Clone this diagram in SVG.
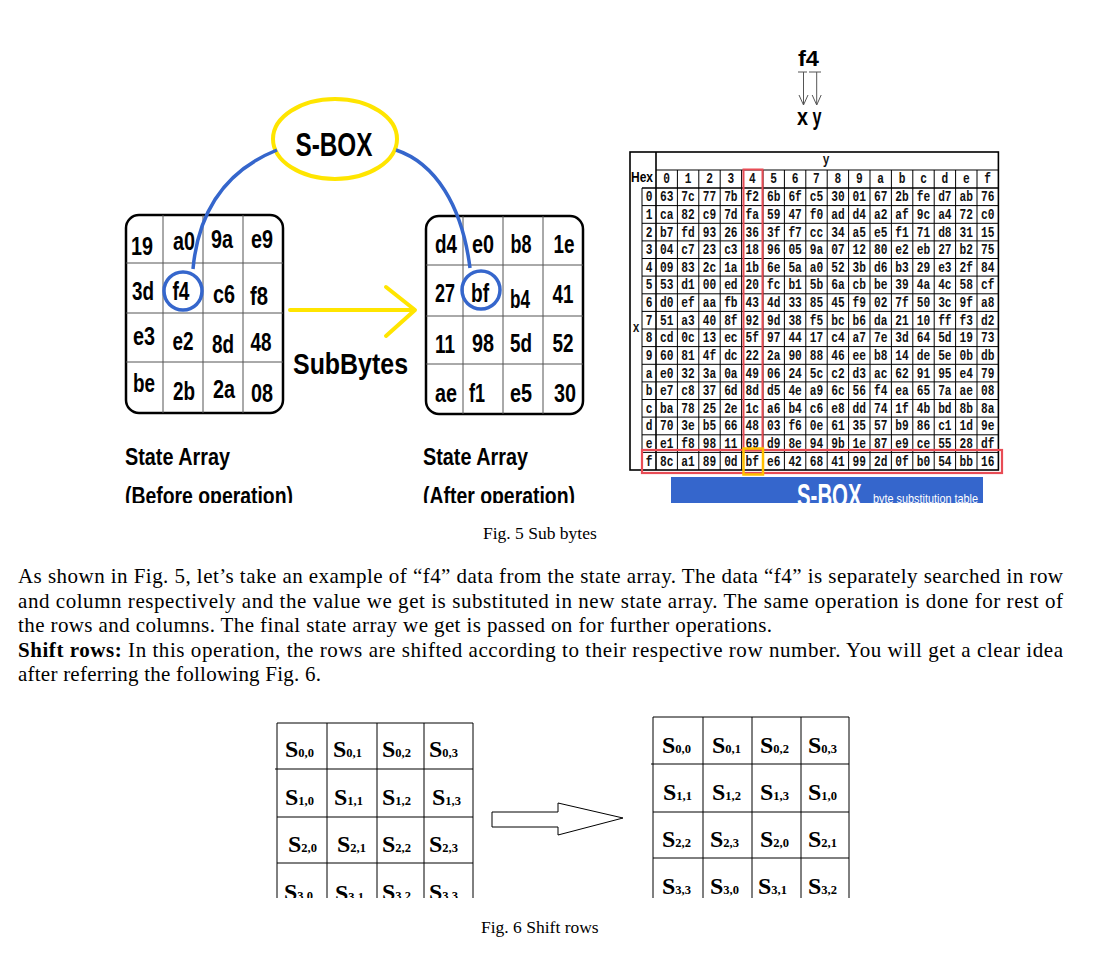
<svg xmlns="http://www.w3.org/2000/svg" width="1095" height="954" viewBox="0 0 1095 954">
<style>
.bn{font-family:"Liberation Sans",Arial,sans-serif;font-weight:bold;fill:#000;}
.v{font-size:25px;text-anchor:middle;}
.lbl{font-size:24px;}
.tb{font-family:"Liberation Mono","Courier New",monospace;font-size:14px;font-weight:bold;text-anchor:middle;fill:#111;}
.grid{stroke:#000;stroke-width:1;fill:none;}
.gthk{stroke:#000;stroke-width:1.6;fill:none;}
.ig{stroke:#555;stroke-width:1;fill:none;}
.frame{stroke:#000;stroke-width:2.5;fill:#fff;}
.para{font-family:"Liberation Serif","Times New Roman",serif;font-size:21px;fill:#000;}
.cap{font-family:"Liberation Serif","Times New Roman",serif;font-size:17.5px;fill:#000;}
.s{font-family:"Liberation Serif","Times New Roman",serif;font-weight:bold;font-size:24px;fill:#000;}
.sub{font-size:12.5px;}
.blue{stroke:#3566CC;stroke-width:3.5;fill:none;}
.yel{stroke:#FFE500;stroke-width:4;fill:none;stroke-linecap:round;stroke-linejoin:round;}
.thin{stroke:#555;stroke-width:1;fill:none;}
</style>
<defs>
<clipPath id="clipTop"><rect x="0" y="0" width="1095" height="503"/></clipPath>
<clipPath id="clipBot"><rect x="0" y="700" width="1095" height="198"/></clipPath>
</defs>
<rect x="0" y="0" width="1095" height="954" fill="#fff"/>

<g id="fig5" clip-path="url(#clipTop)">
  <g id="sbox-ellipse">
    <ellipse cx="335" cy="139" rx="62" ry="40" fill="#fff" stroke="#FFE500" stroke-width="4"/>
    <text class="bn" x="334" y="156" font-size="33" text-anchor="middle" textLength="77" lengthAdjust="spacingAndGlyphs">S-BOX</text>
  </g>

  <g id="state-before">
    <rect class="frame" x="126" y="215" width="157" height="198" rx="13"/>
    <path class="ig" d="M163,215V413M203,215V413M243,215V413M126,263H283M126,313H283M126,362H283"/>
    <text class="bn v" x="142" y="255" textLength="22" lengthAdjust="spacingAndGlyphs">19</text>
    <text class="bn v" x="184" y="250" textLength="22" lengthAdjust="spacingAndGlyphs">a0</text>
    <text class="bn v" x="222" y="248" textLength="22" lengthAdjust="spacingAndGlyphs">9a</text>
    <text class="bn v" x="262" y="248" textLength="22" lengthAdjust="spacingAndGlyphs">e9</text>
    <text class="bn v" x="143" y="300" textLength="22" lengthAdjust="spacingAndGlyphs">3d</text>
    <text class="bn v" x="181" y="300" textLength="17" lengthAdjust="spacingAndGlyphs">f4</text>
    <text class="bn v" x="224" y="303" textLength="22" lengthAdjust="spacingAndGlyphs">c6</text>
    <text class="bn v" x="259" y="305" textLength="18" lengthAdjust="spacingAndGlyphs">f8</text>
    <text class="bn v" x="144" y="345" textLength="22" lengthAdjust="spacingAndGlyphs">e3</text>
    <text class="bn v" x="183" y="350" textLength="21" lengthAdjust="spacingAndGlyphs">e2</text>
    <text class="bn v" x="223" y="353" textLength="22" lengthAdjust="spacingAndGlyphs">8d</text>
    <text class="bn v" x="261" y="351" textLength="21" lengthAdjust="spacingAndGlyphs">48</text>
    <text class="bn v" x="144" y="392" textLength="22" lengthAdjust="spacingAndGlyphs">be</text>
    <text class="bn v" x="184" y="400" textLength="22" lengthAdjust="spacingAndGlyphs">2b</text>
    <text class="bn v" x="224" y="398" textLength="22" lengthAdjust="spacingAndGlyphs">2a</text>
    <text class="bn v" x="262" y="402" textLength="22" lengthAdjust="spacingAndGlyphs">08</text>
    <circle class="blue" cx="183" cy="291" r="19"/>
  </g>

  <g id="state-after">
    <rect class="frame" x="426" y="216" width="157" height="198" rx="13"/>
    <path class="ig" d="M463,216V414M503,216V414M543,216V414M426,265H583M426,316H583M426,364H583"/>
    <text class="bn v" x="446" y="253" textLength="22" lengthAdjust="spacingAndGlyphs">d4</text>
    <text class="bn v" x="483" y="253" textLength="22" lengthAdjust="spacingAndGlyphs">e0</text>
    <text class="bn v" x="521" y="253" textLength="21" lengthAdjust="spacingAndGlyphs">b8</text>
    <text class="bn v" x="564" y="253" textLength="21" lengthAdjust="spacingAndGlyphs">1e</text>
    <text class="bn v" x="445" y="302" textLength="20" lengthAdjust="spacingAndGlyphs">27</text>
    <text class="bn v" x="480" y="302" textLength="18" lengthAdjust="spacingAndGlyphs">bf</text>
    <text class="bn v" x="520" y="308" textLength="20" lengthAdjust="spacingAndGlyphs">b4</text>
    <text class="bn v" x="563" y="303" textLength="21" lengthAdjust="spacingAndGlyphs">41</text>
    <text class="bn v" x="445" y="353" textLength="20" lengthAdjust="spacingAndGlyphs">11</text>
    <text class="bn v" x="483" y="352" textLength="22" lengthAdjust="spacingAndGlyphs">98</text>
    <text class="bn v" x="521" y="352" textLength="22" lengthAdjust="spacingAndGlyphs">5d</text>
    <text class="bn v" x="563" y="352" textLength="21" lengthAdjust="spacingAndGlyphs">52</text>
    <text class="bn v" x="446" y="402" textLength="22" lengthAdjust="spacingAndGlyphs">ae</text>
    <text class="bn v" x="477" y="402" textLength="16" lengthAdjust="spacingAndGlyphs">f1</text>
    <text class="bn v" x="521" y="402" textLength="22" lengthAdjust="spacingAndGlyphs">e5</text>
    <text class="bn v" x="565" y="402" textLength="22" lengthAdjust="spacingAndGlyphs">30</text>
    <circle class="blue" cx="481" cy="290" r="19"/>
  </g>

  <g id="connectors">
    <path class="blue" d="M193,269 C197,225 215,175 277,150"/>
    <path class="blue" d="M396,150 C435,163 462,205 470,268"/>
    <path class="yel" d="M290,310 H414 M386,287 L415,310 L386,336"/>
  </g>

  <g id="labels-fig5">
    <text class="bn" x="293" y="374" font-size="30" textLength="115" lengthAdjust="spacingAndGlyphs">SubBytes</text>
    <text class="bn lbl" x="125" y="465" textLength="105" lengthAdjust="spacingAndGlyphs">State Array</text>
    <text class="bn lbl" x="125" y="504" textLength="168" lengthAdjust="spacingAndGlyphs">(Before operation)</text>
    <text class="bn lbl" x="423" y="465" textLength="105" lengthAdjust="spacingAndGlyphs">State Array</text>
    <text class="bn lbl" x="423" y="504" textLength="152" lengthAdjust="spacingAndGlyphs">(After operation)</text>
  </g>

  <g id="f4-xy">
    <text class="bn" x="808.5" y="66" font-size="22" text-anchor="middle" textLength="21" lengthAdjust="spacingAndGlyphs">f4</text>
    <path class="thin" d="M798,72H807M809,72H821M803.5,72V105M816.7,72V105M799,95L803.5,105L808,95M812.2,95L816.7,105L821.2,95"/>
    <text class="bn" x="802.5" y="125" font-size="24" text-anchor="middle" textLength="11" lengthAdjust="spacingAndGlyphs">x</text>
    <text class="bn" x="817" y="125" font-size="24" text-anchor="middle" textLength="9" lengthAdjust="spacingAndGlyphs">y</text>
  </g>

  <g id="sbox-table">
    <rect class="gthk" x="630" y="152" width="368.4" height="318"/>
    <path class="gthk" d="M656,152V470M642,188H998.4"/>
    <path class="grid" d="M642,188V470M656,170H998.4
      M677.4,170V470M698.8,170V470M720.2,170V470M741.6,170V470M763,170V470M784.4,170V470M805.8,170V470M827.2,170V470M848.6,170V470M870,170V470M891.4,170V470M912.8,170V470M934.2,170V470M955.6,170V470M977,170V470
      M642,205.6H998.4M642,223.3H998.4M642,240.9H998.4M642,258.5H998.4M642,276.1H998.4M642,293.8H998.4M642,311.4H998.4M642,329H998.4M642,346.6H998.4M642,364.3H998.4M642,381.9H998.4M642,399.5H998.4M642,417.1H998.4M642,434.8H998.4M642,452.4H998.4"/>
    <text class="bn" x="642" y="182" font-size="14" text-anchor="middle" textLength="22" lengthAdjust="spacingAndGlyphs">Hex</text>
    <g transform="scale(0.8 1)">
      <text class="tb" x="1032.5" y="164">y</text>
      <text class="tb" x="795" y="332">x</text>
      <text class="tb" y="183"><tspan x="833.4">0</tspan><tspan x="860.1">1</tspan><tspan x="886.9">2</tspan><tspan x="913.6">3</tspan><tspan x="940.4">4</tspan><tspan x="967.1">5</tspan><tspan x="993.9">6</tspan><tspan x="1020.6">7</tspan><tspan x="1047.4">8</tspan><tspan x="1074.1">9</tspan><tspan x="1100.9">a</tspan><tspan x="1127.6">b</tspan><tspan x="1154.4">c</tspan><tspan x="1181.1">d</tspan><tspan x="1207.9">e</tspan><tspan x="1234.6">f</tspan></text>
      <text class="tb" y="201.3"><tspan x="811.3">0</tspan><tspan x="833.4">63</tspan><tspan x="860.1">7c</tspan><tspan x="886.9">77</tspan><tspan x="913.6">7b</tspan><tspan x="940.4">f2</tspan><tspan x="967.1">6b</tspan><tspan x="993.9">6f</tspan><tspan x="1020.6">c5</tspan><tspan x="1047.4">30</tspan><tspan x="1074.1">01</tspan><tspan x="1100.9">67</tspan><tspan x="1127.6">2b</tspan><tspan x="1154.4">fe</tspan><tspan x="1181.1">d7</tspan><tspan x="1207.9">ab</tspan><tspan x="1234.6">76</tspan></text>
      <text class="tb" y="218.9"><tspan x="811.3">1</tspan><tspan x="833.4">ca</tspan><tspan x="860.1">82</tspan><tspan x="886.9">c9</tspan><tspan x="913.6">7d</tspan><tspan x="940.4">fa</tspan><tspan x="967.1">59</tspan><tspan x="993.9">47</tspan><tspan x="1020.6">f0</tspan><tspan x="1047.4">ad</tspan><tspan x="1074.1">d4</tspan><tspan x="1100.9">a2</tspan><tspan x="1127.6">af</tspan><tspan x="1154.4">9c</tspan><tspan x="1181.1">a4</tspan><tspan x="1207.9">72</tspan><tspan x="1234.6">c0</tspan></text>
      <text class="tb" y="236.6"><tspan x="811.3">2</tspan><tspan x="833.4">b7</tspan><tspan x="860.1">fd</tspan><tspan x="886.9">93</tspan><tspan x="913.6">26</tspan><tspan x="940.4">36</tspan><tspan x="967.1">3f</tspan><tspan x="993.9">f7</tspan><tspan x="1020.6">cc</tspan><tspan x="1047.4">34</tspan><tspan x="1074.1">a5</tspan><tspan x="1100.9">e5</tspan><tspan x="1127.6">f1</tspan><tspan x="1154.4">71</tspan><tspan x="1181.1">d8</tspan><tspan x="1207.9">31</tspan><tspan x="1234.6">15</tspan></text>
      <text class="tb" y="254.2"><tspan x="811.3">3</tspan><tspan x="833.4">04</tspan><tspan x="860.1">c7</tspan><tspan x="886.9">23</tspan><tspan x="913.6">c3</tspan><tspan x="940.4">18</tspan><tspan x="967.1">96</tspan><tspan x="993.9">05</tspan><tspan x="1020.6">9a</tspan><tspan x="1047.4">07</tspan><tspan x="1074.1">12</tspan><tspan x="1100.9">80</tspan><tspan x="1127.6">e2</tspan><tspan x="1154.4">eb</tspan><tspan x="1181.1">27</tspan><tspan x="1207.9">b2</tspan><tspan x="1234.6">75</tspan></text>
      <text class="tb" y="271.8"><tspan x="811.3">4</tspan><tspan x="833.4">09</tspan><tspan x="860.1">83</tspan><tspan x="886.9">2c</tspan><tspan x="913.6">1a</tspan><tspan x="940.4">1b</tspan><tspan x="967.1">6e</tspan><tspan x="993.9">5a</tspan><tspan x="1020.6">a0</tspan><tspan x="1047.4">52</tspan><tspan x="1074.1">3b</tspan><tspan x="1100.9">d6</tspan><tspan x="1127.6">b3</tspan><tspan x="1154.4">29</tspan><tspan x="1181.1">e3</tspan><tspan x="1207.9">2f</tspan><tspan x="1234.6">84</tspan></text>
      <text class="tb" y="289.4"><tspan x="811.3">5</tspan><tspan x="833.4">53</tspan><tspan x="860.1">d1</tspan><tspan x="886.9">00</tspan><tspan x="913.6">ed</tspan><tspan x="940.4">20</tspan><tspan x="967.1">fc</tspan><tspan x="993.9">b1</tspan><tspan x="1020.6">5b</tspan><tspan x="1047.4">6a</tspan><tspan x="1074.1">cb</tspan><tspan x="1100.9">be</tspan><tspan x="1127.6">39</tspan><tspan x="1154.4">4a</tspan><tspan x="1181.1">4c</tspan><tspan x="1207.9">58</tspan><tspan x="1234.6">cf</tspan></text>
      <text class="tb" y="307.1"><tspan x="811.3">6</tspan><tspan x="833.4">d0</tspan><tspan x="860.1">ef</tspan><tspan x="886.9">aa</tspan><tspan x="913.6">fb</tspan><tspan x="940.4">43</tspan><tspan x="967.1">4d</tspan><tspan x="993.9">33</tspan><tspan x="1020.6">85</tspan><tspan x="1047.4">45</tspan><tspan x="1074.1">f9</tspan><tspan x="1100.9">02</tspan><tspan x="1127.6">7f</tspan><tspan x="1154.4">50</tspan><tspan x="1181.1">3c</tspan><tspan x="1207.9">9f</tspan><tspan x="1234.6">a8</tspan></text>
      <text class="tb" y="324.7"><tspan x="811.3">7</tspan><tspan x="833.4">51</tspan><tspan x="860.1">a3</tspan><tspan x="886.9">40</tspan><tspan x="913.6">8f</tspan><tspan x="940.4">92</tspan><tspan x="967.1">9d</tspan><tspan x="993.9">38</tspan><tspan x="1020.6">f5</tspan><tspan x="1047.4">bc</tspan><tspan x="1074.1">b6</tspan><tspan x="1100.9">da</tspan><tspan x="1127.6">21</tspan><tspan x="1154.4">10</tspan><tspan x="1181.1">ff</tspan><tspan x="1207.9">f3</tspan><tspan x="1234.6">d2</tspan></text>
      <text class="tb" y="342.3"><tspan x="811.3">8</tspan><tspan x="833.4">cd</tspan><tspan x="860.1">0c</tspan><tspan x="886.9">13</tspan><tspan x="913.6">ec</tspan><tspan x="940.4">5f</tspan><tspan x="967.1">97</tspan><tspan x="993.9">44</tspan><tspan x="1020.6">17</tspan><tspan x="1047.4">c4</tspan><tspan x="1074.1">a7</tspan><tspan x="1100.9">7e</tspan><tspan x="1127.6">3d</tspan><tspan x="1154.4">64</tspan><tspan x="1181.1">5d</tspan><tspan x="1207.9">19</tspan><tspan x="1234.6">73</tspan></text>
      <text class="tb" y="359.9"><tspan x="811.3">9</tspan><tspan x="833.4">60</tspan><tspan x="860.1">81</tspan><tspan x="886.9">4f</tspan><tspan x="913.6">dc</tspan><tspan x="940.4">22</tspan><tspan x="967.1">2a</tspan><tspan x="993.9">90</tspan><tspan x="1020.6">88</tspan><tspan x="1047.4">46</tspan><tspan x="1074.1">ee</tspan><tspan x="1100.9">b8</tspan><tspan x="1127.6">14</tspan><tspan x="1154.4">de</tspan><tspan x="1181.1">5e</tspan><tspan x="1207.9">0b</tspan><tspan x="1234.6">db</tspan></text>
      <text class="tb" y="377.6"><tspan x="811.3">a</tspan><tspan x="833.4">e0</tspan><tspan x="860.1">32</tspan><tspan x="886.9">3a</tspan><tspan x="913.6">0a</tspan><tspan x="940.4">49</tspan><tspan x="967.1">06</tspan><tspan x="993.9">24</tspan><tspan x="1020.6">5c</tspan><tspan x="1047.4">c2</tspan><tspan x="1074.1">d3</tspan><tspan x="1100.9">ac</tspan><tspan x="1127.6">62</tspan><tspan x="1154.4">91</tspan><tspan x="1181.1">95</tspan><tspan x="1207.9">e4</tspan><tspan x="1234.6">79</tspan></text>
      <text class="tb" y="395.2"><tspan x="811.3">b</tspan><tspan x="833.4">e7</tspan><tspan x="860.1">c8</tspan><tspan x="886.9">37</tspan><tspan x="913.6">6d</tspan><tspan x="940.4">8d</tspan><tspan x="967.1">d5</tspan><tspan x="993.9">4e</tspan><tspan x="1020.6">a9</tspan><tspan x="1047.4">6c</tspan><tspan x="1074.1">56</tspan><tspan x="1100.9">f4</tspan><tspan x="1127.6">ea</tspan><tspan x="1154.4">65</tspan><tspan x="1181.1">7a</tspan><tspan x="1207.9">ae</tspan><tspan x="1234.6">08</tspan></text>
      <text class="tb" y="412.8"><tspan x="811.3">c</tspan><tspan x="833.4">ba</tspan><tspan x="860.1">78</tspan><tspan x="886.9">25</tspan><tspan x="913.6">2e</tspan><tspan x="940.4">1c</tspan><tspan x="967.1">a6</tspan><tspan x="993.9">b4</tspan><tspan x="1020.6">c6</tspan><tspan x="1047.4">e8</tspan><tspan x="1074.1">dd</tspan><tspan x="1100.9">74</tspan><tspan x="1127.6">1f</tspan><tspan x="1154.4">4b</tspan><tspan x="1181.1">bd</tspan><tspan x="1207.9">8b</tspan><tspan x="1234.6">8a</tspan></text>
      <text class="tb" y="430.4"><tspan x="811.3">d</tspan><tspan x="833.4">70</tspan><tspan x="860.1">3e</tspan><tspan x="886.9">b5</tspan><tspan x="913.6">66</tspan><tspan x="940.4">48</tspan><tspan x="967.1">03</tspan><tspan x="993.9">f6</tspan><tspan x="1020.6">0e</tspan><tspan x="1047.4">61</tspan><tspan x="1074.1">35</tspan><tspan x="1100.9">57</tspan><tspan x="1127.6">b9</tspan><tspan x="1154.4">86</tspan><tspan x="1181.1">c1</tspan><tspan x="1207.9">1d</tspan><tspan x="1234.6">9e</tspan></text>
      <text class="tb" y="448.1"><tspan x="811.3">e</tspan><tspan x="833.4">e1</tspan><tspan x="860.1">f8</tspan><tspan x="886.9">98</tspan><tspan x="913.6">11</tspan><tspan x="940.4">69</tspan><tspan x="967.1">d9</tspan><tspan x="993.9">8e</tspan><tspan x="1020.6">94</tspan><tspan x="1047.4">9b</tspan><tspan x="1074.1">1e</tspan><tspan x="1100.9">87</tspan><tspan x="1127.6">e9</tspan><tspan x="1154.4">ce</tspan><tspan x="1181.1">55</tspan><tspan x="1207.9">28</tspan><tspan x="1234.6">df</tspan></text>
      <text class="tb" y="465.7"><tspan x="811.3">f</tspan><tspan x="833.4">8c</tspan><tspan x="860.1">a1</tspan><tspan x="886.9">89</tspan><tspan x="913.6">0d</tspan><tspan x="940.4">bf</tspan><tspan x="967.1">e6</tspan><tspan x="993.9">42</tspan><tspan x="1020.6">68</tspan><tspan x="1047.4">41</tspan><tspan x="1074.1">99</tspan><tspan x="1100.9">2d</tspan><tspan x="1127.6">0f</tspan><tspan x="1154.4">b0</tspan><tspan x="1181.1">54</tspan><tspan x="1207.9">bb</tspan><tspan x="1234.6">16</tspan></text>
    </g>
    <rect x="743.5" y="169.5" width="19" height="281" fill="none" stroke="#E84C55" stroke-width="2"/>
    <rect x="642" y="450" width="360" height="23" fill="none" stroke="#E84C55" stroke-width="2.2"/>
    <rect x="743.5" y="448.5" width="19.5" height="26" fill="none" stroke="#FFC000" stroke-width="2.5"/>
  </g>

  <g id="sbox-banner">
    <rect x="671" y="477" width="312" height="30" fill="#3566CC"/>
    <text class="bn" transform="translate(797 507) scale(0.6 1)" x="0" y="0" font-size="34" style="fill:#fff">S-BOX</text>
    <text transform="translate(873 503) scale(0.87 1)" x="0" y="0" font-family="Liberation Sans, Arial, sans-serif" font-size="12.5" fill="#fff">byte substitution table</text>
  </g>
</g>

<text class="cap" x="483" y="539">Fig. 5 Sub bytes</text>

<g id="paragraph">
  <text class="para" x="18" y="583" textLength="1045" lengthAdjust="spacing">As shown in Fig. 5, let’s take an example of “f4” data from the state array. The data “f4” is separately searched in row</text>
  <text class="para" x="18" y="608" textLength="1045" lengthAdjust="spacing">and column respectively and the value we get is substituted in new state array. The same operation is done for rest of</text>
  <text class="para" x="18" y="632" textLength="754" lengthAdjust="spacing">the rows and columns. The final state array we get is passed on for further operations.</text>
  <text class="para" x="18" y="657" textLength="1045" lengthAdjust="spacing"><tspan font-weight="bold">Shift rows:</tspan> In this operation, the rows are shifted according to their respective row number. You will get a clear idea</text>
  <text class="para" x="18" y="681" textLength="303" lengthAdjust="spacing">after referring the following Fig. 6.</text>
</g>

<g id="fig6" clip-path="url(#clipBot)">
  <g id="grid-before">
    <path class="grid" d="M277,723H473M275,769H473M277,817H473M277,863H473M277,723V900M327,723V900M377,723V900M424,723V900M473,723V900"/>
    <text class="s" x="285" y="757">S<tspan class="sub">0,0</tspan></text>
    <text class="s" x="333" y="757">S<tspan class="sub">0,1</tspan></text>
    <text class="s" x="382" y="757">S<tspan class="sub">0,2</tspan></text>
    <text class="s" x="429" y="757">S<tspan class="sub">0,3</tspan></text>
    <text class="s" x="285" y="805">S<tspan class="sub">1,0</tspan></text>
    <text class="s" x="334" y="805">S<tspan class="sub">1,1</tspan></text>
    <text class="s" x="382" y="805">S<tspan class="sub">1,2</tspan></text>
    <text class="s" x="432" y="805">S<tspan class="sub">1,3</tspan></text>
    <text class="s" x="288" y="852">S<tspan class="sub">2,0</tspan></text>
    <text class="s" x="337" y="852">S<tspan class="sub">2,1</tspan></text>
    <text class="s" x="382" y="852">S<tspan class="sub">2,2</tspan></text>
    <text class="s" x="429" y="852">S<tspan class="sub">2,3</tspan></text>
    <text class="s" x="284" y="900">S<tspan class="sub">3,0</tspan></text>
    <text class="s" x="335" y="901">S<tspan class="sub">3,1</tspan></text>
    <text class="s" x="382" y="900">S<tspan class="sub">3,2</tspan></text>
    <text class="s" x="429" y="900">S<tspan class="sub">3,3</tspan></text>
  </g>
  <g id="shift-arrow">
    <polygon points="492,812 558,812 558,803 623,818 558,835 558,827 492,827" fill="#fff" stroke="#000" stroke-width="1"/>
  </g>
  <g id="grid-after">
    <path class="grid" d="M653,717H849M651,764H849M653,812H849M653,858H849M653,717V900M703,717V900M752,717V900M801,717V900M849,717V900"/>
    <text class="s" x="662" y="753">S<tspan class="sub">0,0</tspan></text>
    <text class="s" x="712" y="753">S<tspan class="sub">0,1</tspan></text>
    <text class="s" x="760" y="753">S<tspan class="sub">0,2</tspan></text>
    <text class="s" x="808" y="753">S<tspan class="sub">0,3</tspan></text>
    <text class="s" x="663" y="800">S<tspan class="sub">1,1</tspan></text>
    <text class="s" x="712" y="800">S<tspan class="sub">1,2</tspan></text>
    <text class="s" x="760" y="800">S<tspan class="sub">1,3</tspan></text>
    <text class="s" x="808" y="800">S<tspan class="sub">1,0</tspan></text>
    <text class="s" x="662" y="847">S<tspan class="sub">2,2</tspan></text>
    <text class="s" x="710" y="847">S<tspan class="sub">2,3</tspan></text>
    <text class="s" x="760" y="847">S<tspan class="sub">2,0</tspan></text>
    <text class="s" x="808" y="847">S<tspan class="sub">2,1</tspan></text>
    <text class="s" x="662" y="894">S<tspan class="sub">3,3</tspan></text>
    <text class="s" x="710" y="894">S<tspan class="sub">3,0</tspan></text>
    <text class="s" x="758" y="894">S<tspan class="sub">3,1</tspan></text>
    <text class="s" x="808" y="894">S<tspan class="sub">3,2</tspan></text>
  </g>
</g>

<text class="cap" x="481" y="933">Fig. 6 Shift rows</text>
</svg>
